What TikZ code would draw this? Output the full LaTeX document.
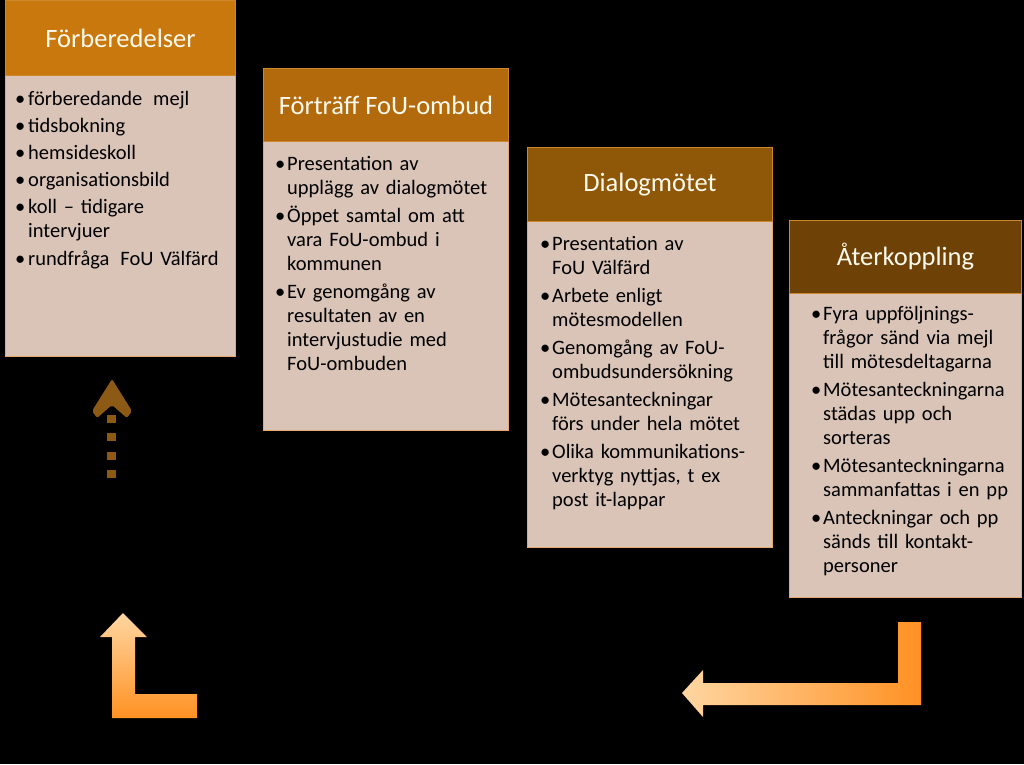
\documentclass[tikz,border=0pt]{standalone}
\usepackage{fontspec}
\setmainfont{Carlito}
\definecolor{hA}{RGB}{200,120,12}
\definecolor{hB}{RGB}{178,106,12}
\definecolor{hC}{RGB}{143,88,8}
\definecolor{hD}{RGB}{110,66,6}
\definecolor{hedge}{RGB}{205,135,45}
\definecolor{bodyc}{RGB}{217,196,183}
\definecolor{bodyb}{RGB}{232,168,105}
\definecolor{htext}{RGB}{255,250,238}
\definecolor{dotc}{RGB}{140,90,20}
\definecolor{arrlight}{RGB}{255,214,162}
\definecolor{arrdark}{RGB}{255,145,35}
\newlength{\bulind}
\newcommand{\bul}[1]{\par\noindent\makebox[\bulind][l]{•}\parbox[t]{220pt}{\raggedright\strut #1\strut}\par}
\newcommand{\bodystart}[1]{\setlength{\parskip}{3pt}\setlength{\bulind}{#1}}
\begin{document}
\begin{tikzpicture}[x=1pt,y=-1pt,
  hdr/.style={draw=hedge, line width=1pt, text=htext, font=\fontsize{26.5}{30}\selectfont,
    inner sep=0pt, anchor=north west},
  bodybox/.style={fill=bodyc, draw=bodyb, line width=1.2pt, inner sep=0pt, anchor=north west},
  txt/.style={anchor=north west, inner sep=0pt, text width=240pt, font=\fontsize{20.5}{24}\selectfont}]
\fill[black] (0,0) rectangle (1024,764);
\useasboundingbox (0,0) rectangle (1024,764);

% column 1
\node[bodybox, minimum width=230pt, minimum height=281pt] (b1) at (5,75) {};
\node[hdr, fill=hA, minimum width=230pt, minimum height=75pt] (h1) at (5,0) {Förberedelser};
\node[txt] (t1) at (15,78) {\bodystart{13pt}%
\bul{förberedande\hspace{4pt} mejl}
\bul{tidsbokning}
\bul{hemsideskoll}
\bul{organisationsbild}
\bul{koll – tidigare\\intervjuer}
\bul{rundfråga\hspace{4pt} FoU Välfärd}};

% column 2
\node[bodybox, minimum width=245pt, minimum height=289pt] (b2) at (263,141) {};
\node[hdr, fill=hB, minimum width=245pt, minimum height=73pt] (h2) at (263,68) {Förträff FoU-ombud};
\node[txt] (t2) at (275,143) {\bodystart{12pt}%
\bul{Presentation av\\upplägg av dialogmötet}
\bul{Öppet samtal om att\\vara FoU-ombud i\\kommunen}
\bul{Ev genomgång av\\resultaten av en\\intervjustudie med\\FoU-ombuden}};

% column 3
\node[bodybox, minimum width=245pt, minimum height=326pt] (b3) at (527,221) {};
\node[hdr, fill=hC, minimum width=245pt, minimum height=74pt] (h3) at (527,147) {Dialogmötet};
\node[txt] (t3) at (540,223) {\bodystart{12pt}%
\bul{Presentation av\\FoU Välfärd}
\bul{Arbete enligt\\mötesmodellen}
\bul{Genomgång av FoU-\\ombudsundersökning}
\bul{Mötesanteckningar\\förs under hela mötet}
\bul{Olika kommunikations-\\verktyg nyttjas, t ex\\post it-lappar}};

% column 4
\node[bodybox, minimum width=232pt, minimum height=304pt] (b4) at (789,293) {};
\node[hdr, fill=hD, minimum width=232pt, minimum height=73pt] (h4) at (789,220) {Återkoppling};
\node[txt] (t4) at (811,293) {\bodystart{12pt}%
\bul{Fyra uppföljnings-\\frågor sänd via mejl\\till mötesdeltagarna}
\bul{Mötesanteckningarna\\städas upp och\\sorteras}
\bul{Mötesanteckningarna\\sammanfattas i en pp}
\bul{Anteckningar och pp\\sänds till kontakt-\\personer}};

% dotted brown arrow
\foreach \yy in {415,433,452,470} \fill[dotc] (107,\yy) rectangle (116,\yy+8);
\fill[dotc, rounded corners=2pt] (112,379) -- (132,411) -- (127,418) -- (112,405) -- (97,418) -- (92,411) -- cycle;

% orange L arrows
\shade[top color=arrlight, bottom color=arrdark]
  (123,613) -- (147,637) -- (135,637) -- (135,694) -- (197,694) -- (197,718)
  -- (112,718) -- (112,637) -- (100,637) -- cycle;
\shade[left color=arrlight, right color=arrdark]
  (921,622) -- (921,705) -- (703,705) -- (703,717) -- (682,693) -- (703,670)
  -- (703,683) -- (898,683) -- (898,622) -- cycle;
\end{tikzpicture}
\end{document}
